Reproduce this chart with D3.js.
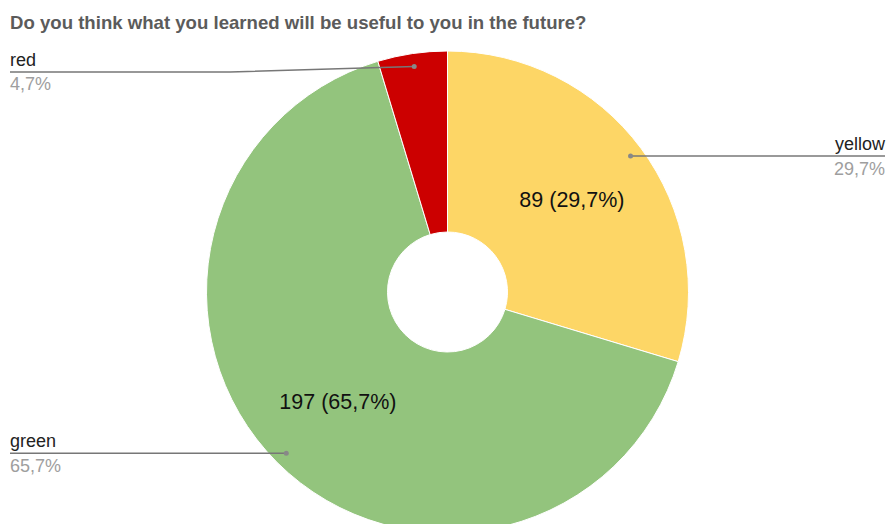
<!DOCTYPE html>
<html><head><meta charset="utf-8">
<script src="https://cdn.jsdelivr.net/npm/d3@7"></script>
<style>body{margin:0;background:#fff;}svg{display:block;font-family:"Liberation Sans",Arial,sans-serif;}</style>
</head><body>
<svg id="c" width="886" height="524"></svg>
<script>
const title = "Do you think what you learned will be useful to you in the future?";
const categories = ["yellow", "green", "red"];
const values = [89, 197, 14];
const percentLabels = ["29,7%", "65,7%", "4,7%"];
const colors = ["#fdd666", "#93c47d", "#cc0000"];

const svg = d3.select("#c");
const cx = 447.5, cy = 292, rOuter = 241, rInner = 60;

svg.append("text").attr("x", 10).attr("y", 29)
  .attr("font-size", 18.6).attr("font-weight", "bold").attr("fill", "#5b5b5b")
  .text(title);

const g = svg.append("g").attr("transform", `translate(${cx},${cy})`);
const pie = d3.pie().sort(null).value(d => d)(values);
const arc = d3.arc().innerRadius(rInner).outerRadius(rOuter);
g.selectAll("path").data(pie).enter().append("path")
  .attr("d", arc).attr("fill", (d, i) => colors[i])
  .attr("stroke", "#fff").attr("stroke-width", 1);

const mid = d => (d.startAngle + d.endAngle) / 2;
const pt = (a, r) => [Math.sin(a) * r, -Math.cos(a) * r];

// inside labels (skip small slice)
pie.forEach((d, i) => {
  if (d.value / d3.sum(values) < 0.1) return;
  const [x, y] = pt(mid(d), 155);
  g.append("text").attr("x", x).attr("y", y + 7.5).attr("text-anchor", "middle")
    .attr("font-size", 21.5).attr("fill", "#111")
    .text(`${values[i]} (${percentLabels[i]})`);
});

// leader lines and outside labels
pie.forEach((d, i) => {
  const [dx, dy] = pt(mid(d), 228);
  const px = cx + dx, py = cy + dy;
  const right = dx > 0;
  const ly = right ? py : (Math.abs(dy) > 200 ? py + 5.5 : py);
  const endX = right ? 885 : 10;
  const pts = right ? [[px, py], [endX, py]] :
    (Math.abs(ly - py) > 1 ? [[px, py], [230, ly], [endX, ly]] : [[px, py], [endX, ly]]);
  svg.append("path").attr("d", d3.line()(pts)).attr("fill", "none")
    .attr("stroke", "#777").attr("stroke-width", 1.5);
  svg.append("circle").attr("cx", px).attr("cy", py).attr("r", 2.5).attr("fill", "#888");
  const anchor = right ? "end" : "start";
  svg.append("text").attr("x", endX).attr("y", ly - 6).attr("text-anchor", anchor)
    .attr("font-size", 18).attr("fill", "#222").text(categories[i]);
  svg.append("text").attr("x", endX).attr("y", ly + 18.5).attr("text-anchor", anchor)
    .attr("font-size", 18).attr("fill", "#9e9e9e").text(percentLabels[i]);
});
</script>
</body></html>
